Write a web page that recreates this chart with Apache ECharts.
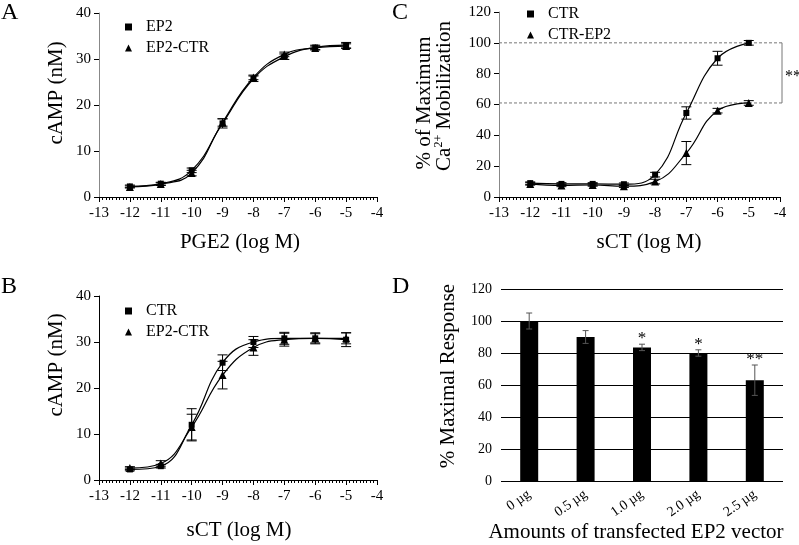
<!DOCTYPE html>
<html><head><meta charset="utf-8">
<script src="https://cdn.jsdelivr.net/npm/echarts@6/dist/echarts.min.js"></script>
<style>html,body{margin:0;padding:0;background:#fff}#c{width:799px;height:545px}</style>
</head><body><div id="c"></div>
<script>
// ---------- data ----------
const logDose = [-12, -11, -10, -9, -8, -7, -6, -5];
// Panel A (PGE2)
const aEP2 = [2.3, 2.9, 5.8, 16.0, 25.7, 30.5, 32.5, 33.0];
const aEP2Err = [0.3, 0.3, 0.5, 1.0, 0.6, 0.6, 0.5, 0.6];
const aEP2CTR = [2.2, 2.8, 5.2, 16.2, 26.0, 31.0, 32.4, 32.8];
const aEP2CTRErr = [0.2, 0.3, 0.6, 0.8, 0.5, 0.5, 0.4, 0.5];
// Panel B (sCT, cAMP)
const bCTR = [2.3, 3.0, 12.0, 25.5, 30.0, 30.8, 30.8, 30.5];
const bCTRErr = [0.3, 0.4, 3.5, 1.7, 1.2, 1.3, 1.2, 1.5];
const bEP2CTR = [2.6, 3.6, 11.5, 22.8, 28.8, 30.5, 30.8, 30.8];
const bEP2CTRErr = [0.3, 0.6, 2.8, 3.0, 1.7, 1.4, 1.0, 1.2];
// Panel C (sCT, Ca2+)
const cCTR = [9.0, 8.5, 8.5, 8.3, 14.5, 54.5, 90.0, 100.0];
const cCTRErr = [0.8, 0.8, 0.8, 0.8, 1.5, 4.0, 4.5, 1.5];
const cCTREP2 = [8.5, 7.5, 7.8, 7.0, 10.0, 28.5, 56.0, 61.0];
const cCTREP2Err = [0.8, 0.8, 0.8, 0.8, 1.5, 7.5, 1.5, 1.5];
const cRefLines = [100, 61];
const cSig = '**';
// Panel D
const dCats = ['0 µg', '0.5 µg', '1.0 µg', '2.0 µg', '2.5 µg'];
const dVals = [100, 90, 83.5, 80, 63];
const dErr = [5, 4, 2, 2, 9.5];
const dSig = ['', '', '*', '*', '**'];
// tick settings
const xTicks = {min: -13, max: -4, interval: 1};
// ---------- helpers ----------
const FONT = 'Liberation Serif';
const pairs = (ys) => logDose.map((x, i) => [x, ys[i]]);
const triples = (ys, es) => logDose.map((x, i) => [x, ys[i], es[i]]);

function errRender(cap, color, sigs) {
  return function (params, api) {
    const x = api.value(0), y = api.value(1), e = api.value(2);
    const t = api.coord([x, y + e]), b = api.coord([x, y - e]);
    const w = cap / 2;
    const st = {stroke: color, lineWidth: 1};
    const ch = [
      {type: 'line', shape: {x1: t[0], y1: t[1], x2: b[0], y2: b[1]}, style: st},
      {type: 'line', shape: {x1: t[0] - w, y1: t[1], x2: t[0] + w, y2: t[1]}, style: st},
      {type: 'line', shape: {x1: b[0] - w, y1: b[1], x2: b[0] + w, y2: b[1]}, style: st}
    ];
    if (sigs && sigs[params.dataIndex]) {
      ch.push({type: 'text', style: {text: sigs[params.dataIndex], x: t[0], y: t[1] + 3,
        align: 'center', verticalAlign: 'bottom', font: '17px ' + FONT, fill: '#000'}});
    }
    return {type: 'group', children: ch};
  };
}

function xAxisLog(gi, axisColor) {
  return {
    gridIndex: gi, type: 'value', min: xTicks.min, max: xTicks.max, interval: xTicks.interval,
    axisLine: {show: true, onZero: false, lineStyle: {color: axisColor, width: 1}},
    axisTick: {show: true, inside: false, length: 5, lineStyle: {color: axisColor}},
    minorTick: {show: true, splitNumber: 9, length: 3, lineStyle: {color: axisColor}},
    splitLine: {show: false}, minorSplitLine: {show: false},
    axisLabel: {color: '#000', fontFamily: FONT, fontSize: 15, margin: 9}
  };
}
function yAxisVal(gi, max, interval, axisColor) {
  return {
    gridIndex: gi, type: 'value', min: 0, max: max, interval: interval,
    axisLine: {show: true, lineStyle: {color: axisColor, width: 1}},
    axisTick: {show: true, inside: false, length: 5, lineStyle: {color: '#000'}},
    splitLine: {show: false},
    axisLabel: {color: '#000', fontFamily: FONT, fontSize: 15, margin: 8}
  };
}
function curve(name, xi, yi, ys, sym) {
  return {
    name: name, type: 'line', xAxisIndex: xi, yAxisIndex: yi, data: pairs(ys),
    smooth: 0.45, symbol: sym, symbolSize: sym === 'triangle' ? 8 : 6, showSymbol: true,
    lineStyle: {color: '#000', width: 1.2}, itemStyle: {color: '#000'}, z: 3
  };
}
function errs(name, xi, yi, ys, es, cap) {
  return {
    name: name, type: 'custom', xAxisIndex: xi, yAxisIndex: yi, data: triples(ys, es),
    renderItem: errRender(cap, '#000'), clip: false, z: 4, silent: true
  };
}
function legend(left, top, items) {
  return {
    orient: 'vertical', left: left, top: top, itemWidth: 7, itemHeight: 7, itemGap: 5,
    textStyle: {fontFamily: FONT, fontSize: 16, color: '#000', padding: [0, 0, 0, 9]},
    selectedMode: false,
    data: items
  };
}
function title(text, x, y, rot, size) {
  return {type: 'text', x: x, y: y, rotation: rot || 0,
    style: {text: text, font: (size || 21) + 'px ' + FONT, fill: '#000', align: 'center', verticalAlign: 'middle'}};
}

const chart = echarts.init(document.getElementById('c'), null, {renderer: 'canvas'});
const option = {
  animation: false,
  backgroundColor: '#fff',
  grid: [
    {left: 99, top: 13, width: 278, height: 184},
    {left: 499, top: 12, width: 281, height: 185},
    {left: 99, top: 296, width: 278, height: 184},
    {left: 501, top: 289, width: 282, height: 192}
  ],
  xAxis: [
    xAxisLog(0, '#000'),
    xAxisLog(1, '#000'),
    xAxisLog(2, '#000'),
    {gridIndex: 3, type: 'category', data: dCats,
      axisLine: {show: false}, axisTick: {show: false},
      axisLabel: {color: '#000', fontFamily: FONT, fontSize: 14, rotate: 35, margin: 12}}
  ],
  yAxis: [
    yAxisVal(0, 40, 10, '#888'),
    yAxisVal(1, 120, 20, '#888'),
    yAxisVal(2, 40, 10, '#000'),
    {gridIndex: 3, type: 'value', min: 0, max: 120, interval: 20,
      axisLine: {show: false}, axisTick: {show: false},
      splitLine: {show: true, lineStyle: {color: '#000', width: 1}},
      axisLabel: {color: '#000', fontFamily: FONT, fontSize: 14, margin: 9}}
  ],
  legend: [
    legend(120, 14, [{name: 'EP2', icon: 'rect'}, {name: 'EP2-CTR', icon: 'triangle'}]),
    legend(522, 1, [{name: 'CTR', icon: 'rect'}, {name: 'CTR-EP2', icon: 'triangle'}]),
    legend(120, 298, [{name: 'CTR', icon: 'rect'}, {name: 'EP2-CTR', icon: 'triangle'}])
  ],
  series: [
    // A
    curve('EP2', 0, 0, aEP2, 'rect'),
    curve('EP2-CTR', 0, 0, aEP2CTR, 'triangle'),
    errs('errA1', 0, 0, aEP2, aEP2Err, 10),
    errs('errA2', 0, 0, aEP2CTR, aEP2CTRErr, 10),
    // C
    curve('CTR', 1, 1, cCTR, 'rect'),
    curve('CTR-EP2', 1, 1, cCTREP2, 'triangle'),
    errs('errC1', 1, 1, cCTR, cCTRErr, 10),
    errs('errC2', 1, 1, cCTREP2, cCTREP2Err, 10),
    {
      name: 'refC', type: 'custom', xAxisIndex: 1, yAxisIndex: 1, data: [[xTicks.min, cRefLines[0], cRefLines[1]]],
      clip: false, silent: true, z: 1,
      renderItem: function (params, api) {
        const hi = api.value(1), lo = api.value(2);
        const l1 = api.coord([xTicks.min, hi]), r1 = api.coord([xTicks.max, hi]);
        const l2 = api.coord([xTicks.min, lo]), r2 = api.coord([xTicks.max, lo]);
        const bx = r1[0] + 2;
        const dash = {stroke: '#777', lineWidth: 1, lineDash: [3, 2]};
        const solid = {stroke: '#777', lineWidth: 1};
        return {type: 'group', children: [
          {type: 'line', shape: {x1: l1[0], y1: l1[1], x2: bx, y2: r1[1]}, style: dash},
          {type: 'line', shape: {x1: l2[0], y1: l2[1], x2: bx, y2: r2[1]}, style: dash},
          {type: 'line', shape: {x1: bx, y1: r1[1], x2: bx, y2: r2[1]}, style: solid},
          {type: 'text', style: {text: cSig, x: bx + 3, y: (r1[1] + r2[1]) / 2 + 4, align: 'left', verticalAlign: 'middle',
            font: '16px ' + FONT, fill: '#000'}}
        ]};
      }
    },
    // B
    curve('CTR', 2, 2, bCTR, 'rect'),
    curve('EP2-CTR', 2, 2, bEP2CTR, 'triangle'),
    errs('errB1', 2, 2, bCTR, bCTRErr, 10),
    errs('errB2', 2, 2, bEP2CTR, bEP2CTRErr, 10),
    // D
    {name: 'Response', type: 'bar', xAxisIndex: 3, yAxisIndex: 3, data: dVals, barWidth: 18,
      itemStyle: {color: '#000'}, z: 3},
    {name: 'errD', type: 'custom', xAxisIndex: 3, yAxisIndex: 3,
      data: dCats.map((c, i) => [i, dVals[i], dErr[i]]),
      renderItem: errRender(6, '#555', dSig), clip: false, z: 4, silent: true}
  ],
  graphic: [
    {type: 'text', left: 1, top: 1, style: {text: 'A', font: '24px ' + FONT, fill: '#000'}},
    {type: 'text', left: 392, top: 1, style: {text: 'C', font: '24px ' + FONT, fill: '#000'}},
    {type: 'text', left: 1, top: 275, style: {text: 'B', font: '24px ' + FONT, fill: '#000'}},
    {type: 'text', left: 392, top: 275, style: {text: 'D', font: '24px ' + FONT, fill: '#000'}},
    title('cAMP (nM)', 56, 93, Math.PI / 2),
    title('PGE2 (log M)', 240, 242, 0),
    title('cAMP (nM)', 56, 365, Math.PI / 2),
    title('sCT (log M)', 239, 530, 0),
    title('% of Maximum', 424, 103, Math.PI / 2),
    {type: 'text', x: 444, y: 96, rotation: Math.PI / 2,
      style: {text: '{a|Ca}{s|2+}{a| Mobilization}', align: 'center', verticalAlign: 'middle', fill: '#000',
        rich: {a: {fontFamily: FONT, fontSize: 21, fill: '#000', verticalAlign: 'bottom'},
               s: {fontFamily: FONT, fontSize: 12, fill: '#000', verticalAlign: 'top', padding: [0, 0, 10, 0]}}}},
    title('sCT (log M)', 649, 242, 0),
    title('% Maximal Response', 448, 376, Math.PI / 2),
    title('Amounts of transfected EP2 vector', 636, 532, 0)
  ]
};
chart.setOption(option);
</script>
</body></html>
